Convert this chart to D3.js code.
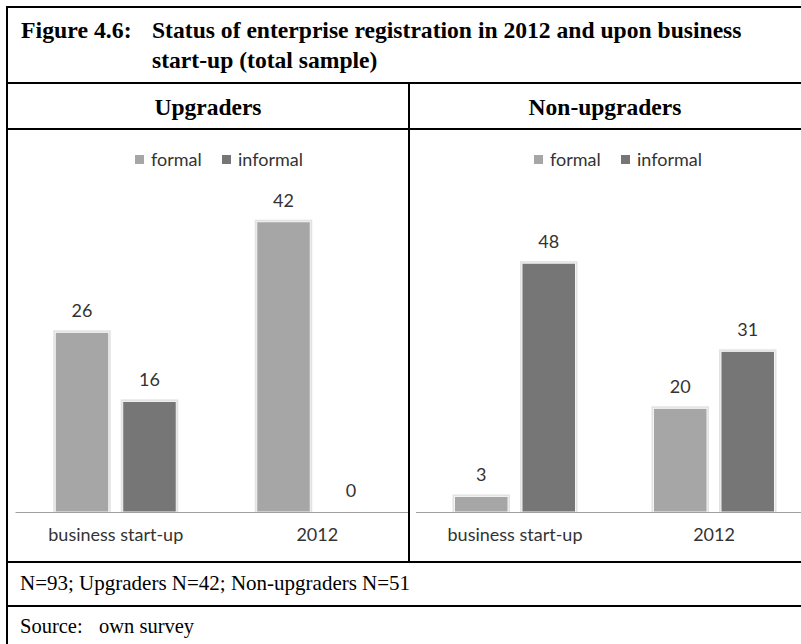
<!DOCTYPE html>
<html><head><meta charset="utf-8">
<script src="https://cdn.jsdelivr.net/npm/d3@7/dist/d3.min.js"></script>
<style>body{margin:0;background:#fff}svg{display:block}</style>
</head><body>
<script>
const categories = ["business start-up", "2012"];
const seriesNames = ["formal", "informal"];
const upgradersFormal = [26, 42];
const upgradersInformal = [16, 0];
const nonUpgradersFormal = [3, 20];
const nonUpgradersInformal = [48, 31];
const titleLines = ["Status of enterprise registration in 2012 and upon business", "start-up (total sample)"];
const panelTitles = ["Upgraders", "Non-upgraders"];
const noteText = "N=93; Upgraders N=42; Non-upgraders N=51";

const W = 801, H = 644;
const svg = d3.select("body").append("svg").attr("width", W).attr("height", H);
const serif = "'Liberation Serif','Times New Roman',serif";
const sans = "Lato,'Noto Sans',sans-serif";
const colors = d3.scaleOrdinal().domain(seriesNames).range(["#a6a6a6", "#767676"]);

// frame lines
const lineG = svg.append("g").attr("stroke", "#000").attr("stroke-width", 2);
lineG.append("line").attr("x1", 7).attr("x2", W).attr("y1", 7).attr("y2", 7);
lineG.append("line").attr("x1", 7).attr("x2", 7).attr("y1", 6).attr("y2", H);
[83, 129, 562, 606].forEach(y => lineG.append("line").attr("x1", 6).attr("x2", W).attr("y1", y).attr("y2", y));
lineG.append("line").attr("x1", 409).attr("x2", 409).attr("y1", 83).attr("y2", 562);

// title
svg.append("text").attr("x", 21).attr("y", 38).attr("font-family", serif).attr("font-weight", "bold")
  .attr("font-size", 23.8).text("Figure 4.6:");
titleLines.forEach((t, i) => svg.append("text").attr("x", 152).attr("y", 38 + i * 30)
  .attr("font-family", serif).attr("font-weight", "bold").attr("font-size", 23.6).text(t));
panelTitles.forEach((t, i) => svg.append("text").attr("x", i ? 605 : 208).attr("y", 115)
  .attr("text-anchor", "middle").attr("font-family", serif).attr("font-weight", "bold")
  .attr("font-size", 23.5).text(t));
svg.append("text").attr("x", 20).attr("y", 590).attr("font-family", serif).attr("font-size", 21).text(noteText);
svg.append("text").attr("x", 20).attr("y", 633).attr("font-family", serif).attr("font-size", 20.5).text("Source:");
svg.append("text").attr("x", 99).attr("y", 633).attr("font-family", serif).attr("font-size", 20.5).text("own survey");

const defs = svg.append("defs");
function panel(id, clip, xRange, yMax, formal, informal, legendX) {
  defs.append("clipPath").attr("id", id).append("rect")
    .attr("x", clip[0]).attr("y", 130).attr("width", clip[1] - clip[0]).attr("height", 431);
  const g = svg.append("g").attr("clip-path", `url(#${id})`);
  const x0 = d3.scaleBand().domain(categories).range(xRange);
  const gw = 121;
  const x1 = d3.scaleBand().domain(seriesNames)
    .range([(x0.bandwidth() - gw) / 2, (x0.bandwidth() + gw) / 2]).paddingInner(0.207);
  const y = d3.scaleLinear().domain([0, yMax]).range([512, 201]);
  const data = categories.map((c, i) => ({ c, vals: [{ s: "formal", v: formal[i] }, { s: "informal", v: informal[i] }] }));
  const grp = g.selectAll(".grp").data(data).join("g").attr("transform", d => `translate(${x0(d.c)},0)`);
  const bars = grp.selectAll(".bar").data(d => d.vals.filter(e => e.v > 0)).join("g");
  bars.append("rect").attr("x", d => x1(d.s) - 2).attr("width", x1.bandwidth() + 4)
    .attr("y", d => y(d.v) - 2).attr("height", d => y(0) - y(d.v) + 2).attr("fill", "#e2e2e2");
  bars.append("rect").attr("x", d => x1(d.s)).attr("width", x1.bandwidth())
    .attr("y", d => y(d.v)).attr("height", d => y(0) - y(d.v))
    .attr("fill", d => colors(d.s)).attr("stroke", "#f4f4f4").attr("stroke-width", 1);
  grp.selectAll(".lbl").data(d => d.vals).join("text")
    .attr("x", d => x1(d.s) + x1.bandwidth() / 2).attr("y", d => y(d.v) - 15)
    .attr("text-anchor", "middle").attr("font-family", sans).attr("font-size", 18).attr("fill", "#333")
    .text(d => d.v);
  const ax = g.append("g").attr("transform", "translate(0,512)")
    .call(d3.axisBottom(x0).tickSize(0).tickSizeOuter(0).tickPadding(16));
  ax.select(".domain").attr("stroke", "#a0a0a0");
  ax.selectAll("text").attr("font-family", sans).attr("font-size", 18).attr("fill", "#333");
  // legend
  const lg = svg.append("g").attr("transform", `translate(${legendX},0)`);
  const offs = [0, 87];
  seriesNames.forEach((s, i) => {
    lg.append("rect").attr("x", offs[i]).attr("y", 155).attr("width", 9).attr("height", 9).attr("fill", colors(s));
    lg.append("text").attr("x", offs[i] + 16).attr("y", 166).attr("font-family", sans).attr("font-size", 18)
      .attr("fill", "#333").text(s);
  });
}
panel("clipL", [8, 408], [15, 418], 45, upgradersFormal, upgradersInformal, 135);
panel("clipR", [410, 801], [415.5, 813.5], 60, nonUpgradersFormal, nonUpgradersInformal, 534);
</script>
</body></html>
